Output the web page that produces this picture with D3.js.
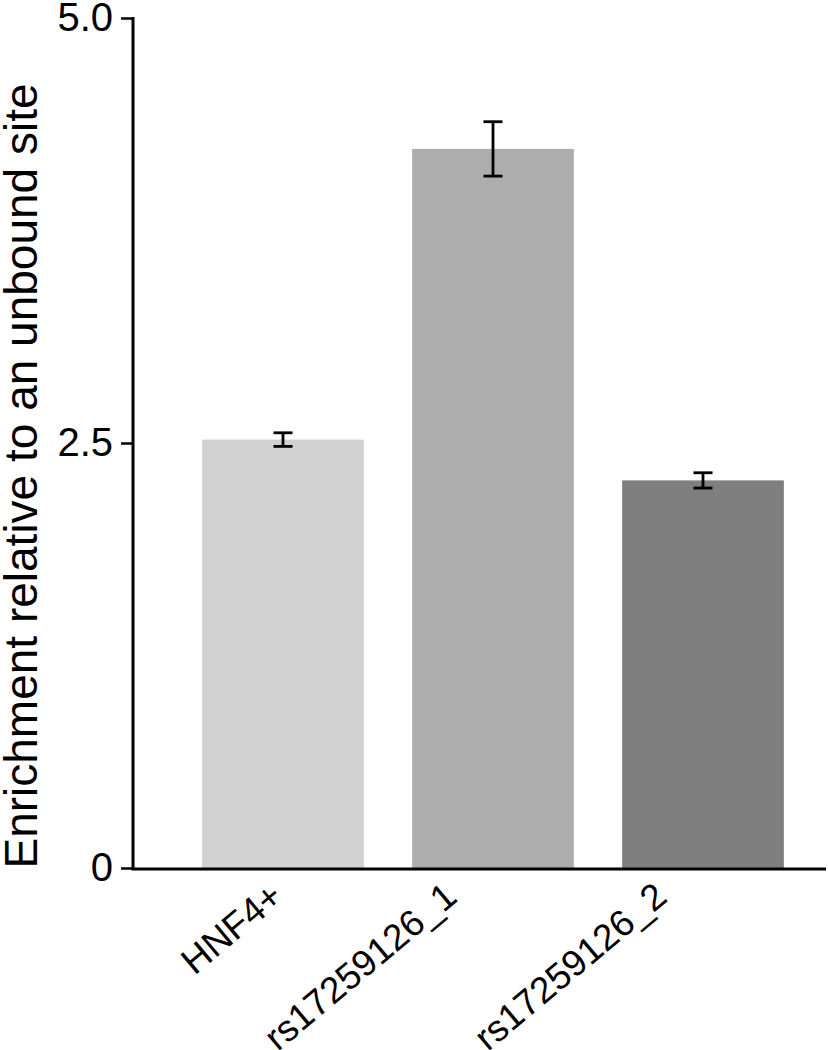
<!DOCTYPE html>
<html>
<head>
<meta charset="utf-8">
<script src="https://cdn.jsdelivr.net/npm/d3@7"></script>
<style>
  body { margin: 0; background: #fff; }
  svg { display: block; font-family: "Liberation Sans", Arial, sans-serif; }
</style>
</head>
<body>
<div id="chart"></div>
<script>
// data
const categories = ['HNF4+', 'rs17259126_1', 'rs17259126_2'];
const values = [2.52, 4.23, 2.28];
const errors = [0.04, 0.16, 0.045];
const barColors = ['#d2d2d2', '#adadad', '#7f7f7f'];
const yTicks = [0, 2.5, 5.0];
const yTickLabels = ['0', '2.5', '5.0'];

const width = 828, height = 1050;
const axisX = 133, axisY = 868, topY = 18;

const svg = d3.select('#chart')
    .append('svg')
    .attr('width', width)
    .attr('height', height);

const x = d3.scaleBand()
    .domain(categories)
    .range([178, 808])
    .paddingInner(0.23)
    .paddingOuter(0.115);

const y = d3.scaleLinear()
    .domain([0, 5])
    .range([axisY, topY]);

// bars
svg.append('g')
    .selectAll('rect')
    .data(categories)
    .join('rect')
    .attr('x', d => x(d))
    .attr('y', (d, i) => y(values[i]))
    .attr('width', x.bandwidth())
    .attr('height', (d, i) => y(0) - y(values[i]))
    .attr('fill', (d, i) => barColors[i]);

// error bars
const eb = svg.append('g')
    .attr('stroke', '#000')
    .attr('stroke-width', 2.8);

categories.forEach((c, i) => {
    const cx = x(c) + x.bandwidth() / 2;
    const hi = y(values[i] + errors[i]);
    const lo = y(values[i] - errors[i]);
    eb.append('line').attr('x1', cx).attr('x2', cx).attr('y1', hi).attr('y2', lo);
    eb.append('line').attr('x1', cx - 9.5).attr('x2', cx + 9.5).attr('y1', hi).attr('y2', hi);
    eb.append('line').attr('x1', cx - 9.5).attr('x2', cx + 9.5).attr('y1', lo).attr('y2', lo);
});

// y axis
const yAxis = d3.axisLeft(y)
    .tickValues(yTicks)
    .tickFormat((d, i) => yTickLabels[i])
    .tickSize(12)
    .tickPadding(8);

const gy = svg.append('g')
    .attr('transform', `translate(${axisX},0)`)
    .call(yAxis);

gy.select('.domain').remove();
gy.append('line')
    .attr('x1', 0).attr('x2', 0)
    .attr('y1', topY - 1).attr('y2', axisY + 1.5)
    .attr('stroke', '#000')
    .attr('stroke-width', 3);
gy.selectAll('.tick line')
    .attr('stroke', '#000')
    .attr('stroke-width', 2.5);
gy.selectAll('.tick text')
    .attr('font-size', 40)
    .attr('fill', '#000')
    .attr('font-family', '"Liberation Sans", Arial, sans-serif');

// x axis line
svg.append('line')
    .attr('x1', axisX - 1.5).attr('x2', 826)
    .attr('y1', axisY + 1).attr('y2', axisY + 1)
    .attr('stroke', '#000')
    .attr('stroke-width', 3);

// x labels (rotated)
svg.append('g')
    .selectAll('text')
    .data(categories)
    .join('text')
    .attr('transform', (d, i) => `translate(${x(d) + x.bandwidth() / 2 - (i === 0 ? -2 : 34)},${axisY + 32}) rotate(-40)`)
    .attr('text-anchor', 'end')
    .attr('font-size', 37)
    .attr('fill', '#000')
    .text(d => d);

// y axis title
svg.append('text')
    .attr('transform', `translate(37,${(axisY + 84) / 2}) rotate(-90)`)
    .attr('text-anchor', 'middle')
    .attr('font-size', 46)
    .attr('fill', '#000')
    .text('Enrichment relative to an unbound site');
</script>
</body>
</html>
